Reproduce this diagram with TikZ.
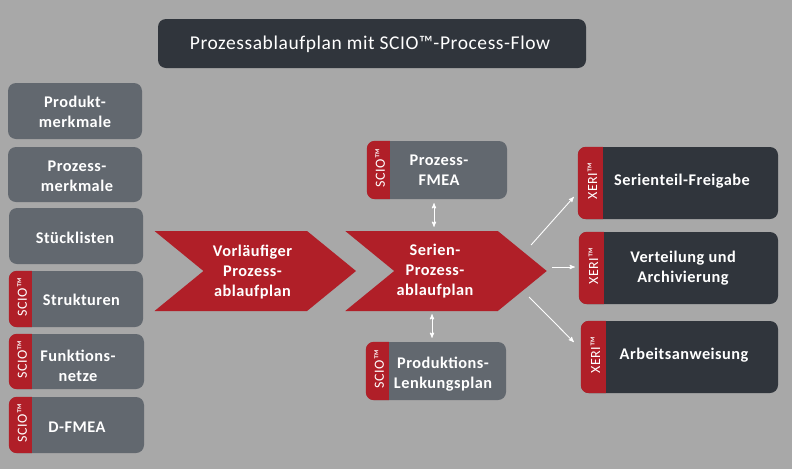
\documentclass[tikz,border=0pt]{standalone}
\usepackage{fontspec}
\setmainfont[LetterSpace=3]{Carlito}
\usetikzlibrary{arrows,shapes.symbols}

\definecolor{bggrey}{HTML}{A8A8A8}
\definecolor{boxgrey}{HTML}{62686F}
\definecolor{boxdark}{HTML}{30353C}
\definecolor{tagred}{HTML}{B01F28}

\tikzset{
  sheet/.style={x=1pt,y=-1pt},
  greybox/.style={fill=boxgrey,rounded corners=8pt,inner sep=0pt},
  darkbox/.style={fill=boxdark,rounded corners=8pt,inner sep=0pt},
  chevron/.style={signal,signal from=west,signal to=east,signal pointer angle=78.5,
    fill=tagred,inner sep=0pt,minimum width=201.5,minimum height=80},
  boxtext/.style={text=white,align=center,font=\fontsize{16.3}{20}\selectfont\bfseries},
  tagtext/.style={text=white,rotate=90,font=\fontsize{14}{14}\selectfont},
  flow/.style={->,>=stealth',draw=white,line width=0.9pt},
  swap/.style={<->,>=stealth',draw=white,line width=0.9pt}
}

% red bar on the left side of a box
\newcommand{\tagbar}[3]{
  \fill[tagred] ([xshift=#2]#1.south west) -- ([xshift=#2]#1.north west)
    [rounded corners=8pt] -- (#1.north west) -- (#1.south west)
    [sharp corners] -- ([xshift=#2]#1.south west) -- cycle;
  \node[tagtext] (#1tag) at ([xshift=#2/2+2,yshift=2]#1.west) {#3};
}

\begin{document}
\begin{tikzpicture}[sheet]

  \fill[bggrey] (0,0) rectangle (792,469);

  \node[darkbox,minimum width=428,minimum height=49] (title) at (372,43.5) {};
  \node[text=white,font=\fontsize{19.5}{22}\selectfont] (titletext) at (370,44)
    {Prozessablaufplan mit SCIO™-Process-Flow};

  % left column
  \node[greybox,minimum width=134,minimum height=56] (produkt) at (75,111) {};
  \node[greybox,minimum width=134,minimum height=55] (prozess) at (75,174.5) {};
  \node[greybox,minimum width=134,minimum height=56] (stueck) at (76,236) {};
  \node[greybox,minimum width=134,minimum height=56] (struktur) at (76,299) {};
  \node[greybox,minimum width=135,minimum height=55] (funktion) at (76.5,361.5) {};
  \node[greybox,minimum width=135,minimum height=56] (dfmea) at (76.5,425) {};

  \tagbar{struktur}{23}{SCIO™}
  \tagbar{funktion}{23}{SCIO™}
  \tagbar{dfmea}{23}{SCIO™}

  \node[boxtext] (produkttext) at (75,112) {Produkt-\\merkmale};
  \node[boxtext] (prozesstext) at (77,176.5) {Prozess-\\merkmale};
  \node[boxtext] (stuecktext) at (75,238) {Stücklisten};
  \node[boxtext] (strukturtext) at (81.5,300) {Strukturen};
  \node[boxtext] (funktiontext) at (78,365.5) {Funktions-\\netze};
  \node[boxtext] (dfmeatext) at (77,427) {D-FMEA};

  % chevrons
  \node[chevron] (vorlauf) at (255.25,271) {};
  \node[chevron] (serien) at (446,271) {};
  \node[boxtext] (vorlauftext) at (252.5,272) {Vorläufiger\\Prozess-\\ablaufplan};
  \node[boxtext] (serientext) at (435,271) {Serien-\\Prozess-\\ablaufplan};

  % middle column
  \node[greybox,minimum width=140,minimum height=58] (pfmea) at (437,170) {};
  \node[greybox,minimum width=140,minimum height=58] (lenkung) at (436,371) {};
  \tagbar{pfmea}{23}{SCIO™}
  \tagbar{lenkung}{23}{SCIO™}
  \node[boxtext] (pfmeatext) at (439,170) {Prozess-\\FMEA};
  \node[boxtext] (lenkungtext) at (443,374.5) {Produktions-\\Lenkungsplan};

  % right column
  \node[darkbox,minimum width=200,minimum height=72] (freigabe) at (678,183) {};
  \node[darkbox,minimum width=199,minimum height=72] (verteilung) at (678.5,268) {};
  \node[darkbox,minimum width=197,minimum height=72] (anweisung) at (679.5,357) {};
  \tagbar{freigabe}{25}{XERI™}
  \tagbar{verteilung}{25}{XERI™}
  \tagbar{anweisung}{25}{XERI™}
  \node[boxtext] (freigabetext) at (682,181) {Serienteil-Freigabe};
  \node[boxtext] (verteilungtext) at (683,268) {Verteilung und\\Archivierung};
  \node[boxtext] (anweisungtext) at (684,355) {Arbeitsanweisung};

  % arrows
  \draw[swap] ([shift={(-3,4)}]pfmea.south) -- ([shift={(-12,-4)}]serien.north);
  \draw[swap] ([shift={(-14,3)}]serien.south) -- ([shift={(-4,-4)}]lenkung.north);
  \draw[flow] ([shift={(-16,-26)}]serien.east) -- ([shift={(-4,14)}]freigabe.west);
  \draw[flow] ([shift={(5,-4)}]serien.east) -- ([shift={(-4,-1)}]verteilung.west);
  \draw[flow] ([shift={(-18,26)}]serien.east) -- ([shift={(-7,-15)}]anweisung.west);

\end{tikzpicture}
\end{document}
